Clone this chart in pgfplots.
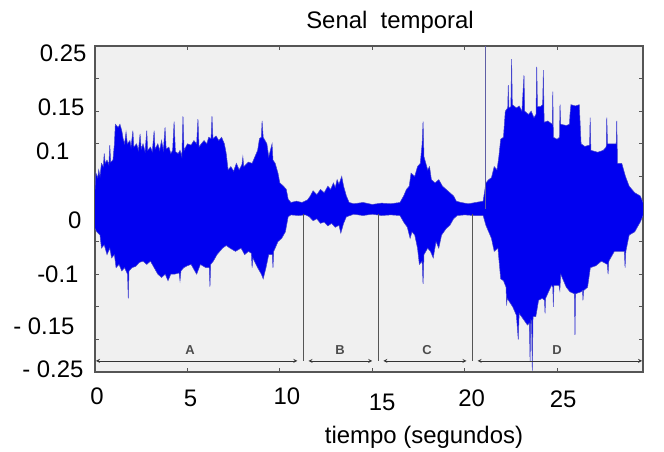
\documentclass[border=0pt]{standalone}
\usepackage{fontspec}
\setmainfont{Liberation Sans}
\usepackage{pgfplots}
\pgfplotsset{compat=1.18}
\usepackage{pgfplotstable}
\usepgfplotslibrary{fillbetween}
\definecolor{sigblue}{RGB}{0,0,240}
\definecolor{edgeblue}{RGB}{70,70,205}
\definecolor{bgray}{RGB}{240,240,240}
\definecolor{framegray}{RGB}{85,85,85}
\definecolor{markline}{RGB}{95,95,165}
\newcommand{\shiftlab}[3]{\hspace*{#1}\raisebox{#2}[\height][\depth]{#3}}
\newcommand{\shiftylab}[3]{\raisebox{#2}[\height][\depth]{#3}\hspace*{#1}}

\pgfplotstableread{
x y
0 0.03
0.05 0.055
0.15 0.048
0.2 0.06
0.27 0.05
0.35 0.07
0.45 0.065
0.5 0.085
0.55 0.07
0.65 0.075
0.75 0.068
0.8 0.098
0.85 0.072
0.97 0.075
1.05 0.1
1.1 0.13
1.25 0.125
1.35 0.13
1.45 0.12
1.52 0.108
1.6 0.1
1.68 0.118
1.75 0.1
1.89 0.105
1.95 0.095
2.05 0.12
2.1 0.095
2.25 0.1
2.35 0.09
2.44 0.115
2.5 0.092
2.6 0.1
2.71 0.088
2.8 0.12
2.85 0.09
3.0 0.095
3.1 0.088
3.2 0.12
3.25 0.092
3.4 0.1
3.5 0.09
3.6 0.105
3.7 0.09
3.79 0.125
3.85 0.092
4.0 0.095
4.1 0.085
4.2 0.09
4.28 0.134
4.35 0.088
4.5 0.085
4.6 0.09
4.7 0.08
4.76 0.142
4.82 0.09
5.0 0.1
5.2 0.098
5.35 0.105
5.5 0.1
5.57 0.138
5.63 0.095
5.75 0.1
5.9 0.105
6.05 0.1
6.15 0.11
6.28 0.108
6.33 0.142
6.38 0.108
6.55 0.112
6.7 0.105
6.85 0.11
7.0 0.1
7.1 0.085
7.2 0.06
7.35 0.065
7.5 0.058
7.65 0.07
7.8 0.06
7.95 0.068
8.0 0.08
8.05 0.065
8.3 0.072
8.5 0.07
8.65 0.08
8.8 0.09
8.9 0.108
9.0 0.11
9.04 0.135
9.1 0.11
9.3 0.1
9.4 0.08
9.58 0.1
9.63 0.075
9.75 0.07
9.9 0.055
10.0 0.04
10.2 0.035
10.35 0.03
10.45 0.015
10.6 0.01
10.9 0.012
11.2 0.01
11.5 0.014
11.65 0.02
11.8 0.028
12.0 0.022
12.2 0.03
12.4 0.025
12.6 0.035
12.75 0.03
12.9 0.04
13.0 0.033
13.1 0.045
13.2 0.038
13.35 0.05
13.45 0.035
13.6 0.02
13.75 0.01
14.0 0.008
14.5 0.01
15.0 0.007
15.5 0.009
16.0 0.008
16.5 0.01
16.7 0.02
16.85 0.03
17.0 0.035
17.1 0.055
17.3 0.05
17.45 0.065
17.6 0.07
17.7 0.1
17.75 0.134
17.8 0.08
17.9 0.07
18.0 0.06
18.1 0.065
18.2 0.045
18.4 0.04
18.6 0.045
18.8 0.035
19.0 0.03
19.2 0.025
19.4 0.02
19.55 0.012
19.8 0.01
20.2 0.008
20.6 0.01
21.0 0.012
21.15 0.04
21.3 0.045
21.45 0.048
21.6 0.065
21.75 0.06
21.85 0.08
21.95 0.107
22.1 0.11
22.2 0.15
22.33 0.155
22.36 0.19
22.4 0.155
22.5 0.157
22.54 0.23
22.58 0.16
22.8 0.155
22.95 0.158
23.1 0.15
23.21 0.205
23.25 0.15
23.45 0.145
23.6 0.15
23.75 0.14
23.86 0.145
23.9 0.218
23.94 0.157
24.1 0.157
24.22 0.16
24.26 0.213
24.3 0.133
24.5 0.135
24.74 0.13
24.77 0.18
24.8 0.11
25.0 0.107
25.13 0.11
25.16 0.16
25.2 0.13
25.5 0.128
25.67 0.13
25.7 0.145
25.75 0.16
26.0 0.158
26.2 0.16
26.3 0.1
26.5 0.096
26.76 0.098
26.79 0.14
26.83 0.09
27.2 0.087
27.5 0.09
27.66 0.095
27.69 0.14
27.73 0.1
28.0 0.1
28.2 0.1
28.23 0.135
28.27 0.07
28.5 0.07
28.7 0.05
28.9 0.035
29.2 0.025
29.5 0.02
29.65 0.01
}\envtop

\pgfplotstableread{
x y
0 -0.03
0.1 -0.035
0.27 -0.04
0.35 -0.06
0.5 -0.055
0.65 -0.07
0.8 -0.06
0.9 -0.075
1.05 -0.07
1.14 -0.09
1.3 -0.085
1.45 -0.095
1.6 -0.09
1.76 -0.1
1.8 -0.137
1.84 -0.095
2.0 -0.09
2.2 -0.088
2.4 -0.082
2.6 -0.08
2.8 -0.085
3.0 -0.08
3.2 -0.09
3.4 -0.1
3.6 -0.105
3.8 -0.1
3.95 -0.11
4.1 -0.1
4.3 -0.1
4.55 -0.098
4.6 -0.11
4.65 -0.095
4.8 -0.09
5.0 -0.087
5.2 -0.085
5.5 -0.1
5.7 -0.085
6.0 -0.09
6.18 -0.09
6.22 -0.119
6.26 -0.085
6.4 -0.08
6.6 -0.07
6.9 -0.06
7.1 -0.056
7.3 -0.06
7.6 -0.065
7.9 -0.06
8.1 -0.07
8.3 -0.065
8.46 -0.068
8.5 -0.09
8.54 -0.075
8.8 -0.09
9.0 -0.1
9.1 -0.107
9.25 -0.09
9.4 -0.07
9.59 -0.07
9.63 -0.09
9.67 -0.065
9.9 -0.05
10.1 -0.045
10.3 -0.035
10.45 -0.012
10.6 -0.009
11.0 -0.01
11.4 -0.009
11.6 -0.012
11.8 -0.018
12.0 -0.015
12.2 -0.022
12.4 -0.02
12.6 -0.026
12.8 -0.022
13.0 -0.028
13.2 -0.025
13.3 -0.037
13.45 -0.022
13.6 -0.012
14.0 -0.008
14.5 -0.01
15.0 -0.008
15.5 -0.01
16.0 -0.009
16.5 -0.01
16.7 -0.02
16.9 -0.028
17.05 -0.045
17.15 -0.035
17.3 -0.04
17.45 -0.06
17.55 -0.085
17.7 -0.08
17.75 -0.115
17.8 -0.07
18.0 -0.06
18.15 -0.065
18.3 -0.075
18.45 -0.05
18.6 -0.06
18.75 -0.04
19.0 -0.03
19.2 -0.025
19.4 -0.015
19.6 -0.01
20.0 -0.009
20.5 -0.01
21.0 -0.01
21.15 -0.025
21.3 -0.035
21.45 -0.045
21.6 -0.065
21.8 -0.06
21.95 -0.107
22.1 -0.11
22.24 -0.12
22.27 -0.148
22.3 -0.137
22.6 -0.15
22.8 -0.163
22.9 -0.2
22.95 -0.16
23.2 -0.17
23.4 -0.178
23.5 -0.175
23.54 -0.233
23.58 -0.17
23.62 -0.172
23.66 -0.248
23.7 -0.165
23.85 -0.165
24.0 -0.14
24.2 -0.137
24.32 -0.14
24.35 -0.16
24.38 -0.137
24.7 -0.117
24.77 -0.12
24.8 -0.15
24.83 -0.117
25.1 -0.117
25.15 -0.125
25.2 -0.1
25.5 -0.12
25.7 -0.127
25.94 -0.13
25.97 -0.193
26.0 -0.13
26.3 -0.127
26.38 -0.125
26.4 -0.14
26.44 -0.125
26.65 -0.12
26.8 -0.09
27.1 -0.087
27.4 -0.08
27.72 -0.085
27.76 -0.1
27.8 -0.08
28.1 -0.065
28.64 -0.065
28.68 -0.09
28.72 -0.065
28.9 -0.04
29.2 -0.035
29.5 -0.02
29.65 -0.01
}\envbot

\begin{document}
\begin{tikzpicture}
\begin{axis}[
  at={(95bp,79bp)}, anchor=south west,
  scale only axis, width=548bp, height=326bp,
  xmin=0, xmax=29.65, ymin=-0.25, ymax=0.25,
  axis background/.style={fill=bgray},
  axis line style={framegray, line width=1.2bp},
  xtick={0,5,10,15,20,25},
  xticklabels={\shiftlab{4bp}{0bp}{0},\shiftlab{6bp}{-3bp}{5},\shiftlab{14bp}{0bp}{10},\shiftlab{20bp}{-7bp}{15},\shiftlab{14bp}{-2bp}{20},\shiftlab{12bp}{-3bp}{25}},
  ytick={-0.25,-0.15,-0.1,0,0.1,0.15,0.25},
  yticklabels={\shiftylab{6bp}{3bp}{- 0.25},\shiftylab{15bp}{-19bp}{- 0.15},\shiftylab{11bp}{0bp}{-0.1},\shiftylab{8bp}{-11bp}{0},\shiftylab{20bp}{-7bp}{0.1},\shiftylab{5bp}{4bp}{0.15},\shiftylab{3bp}{-7bp}{0.25}},
  minor ytick={-0.2,-0.05,0.05,0.2},
  tick style={framegray, line width=0.7bp},
  major tick length=4bp, minor tick length=4bp,
  tick label style={font=\fontsize{24}{26}\selectfont},
  xticklabel style={yshift=-12bp},
  yticklabel style={xshift=-2bp},
  clip=true,
]
\addplot[name path=up, draw=edgeblue, line width=0.5bp] table[x=x,y=y] {\envtop};
\addplot[name path=lo, draw=edgeblue, line width=0.5bp] table[x=x,y=y] {\envbot};
\addplot[fill=sigblue, draw=none] fill between[of=up and lo];
% segment markers
\addplot[framegray, line width=0.7bp] coordinates {(11.26,-0.008) (11.26,-0.233)};
\addplot[framegray, line width=0.7bp] coordinates {(15.31,-0.008) (15.31,-0.233)};
\addplot[framegray, line width=0.7bp] coordinates {(20.4,-0.008) (20.4,-0.233)};
\addplot[markline, line width=0.8bp] coordinates {(21.1,0) (21.1,0.25)};
\addplot[black!80, line width=0.8bp, <->, >=stealth] coordinates {(0.05,-0.233) (10.95,-0.233)};
\addplot[black!80, line width=0.8bp, <->, >=stealth] coordinates {(11.55,-0.233) (15.0,-0.233)};
\addplot[black!80, line width=0.8bp, <->, >=stealth] coordinates {(15.6,-0.233) (20.1,-0.233)};
\addplot[black!80, line width=0.8bp, <->, >=stealth] coordinates {(20.7,-0.233) (29.6,-0.233)};
\node[font=\fontsize{13}{13}\bfseries, text=black!70] at (axis cs:5.14,-0.216) {A};
\node[font=\fontsize{13}{13}\bfseries, text=black!70] at (axis cs:13.26,-0.216) {B};
\node[font=\fontsize{13}{13}\bfseries, text=black!70] at (axis cs:17.97,-0.216) {C};
\node[font=\fontsize{13}{13}\bfseries, text=black!70] at (axis cs:25.0,-0.216) {D};
\end{axis}
\node[font=\fontsize{24}{26}\selectfont] at (390bp,429bp) {Senal~~temporal};
\node[font=\fontsize{24}{26}\selectfont] at (424bp,14bp) {tiempo (segundos)};
\path (0,0) rectangle (664bp,451bp);
\end{tikzpicture}
\end{document}
